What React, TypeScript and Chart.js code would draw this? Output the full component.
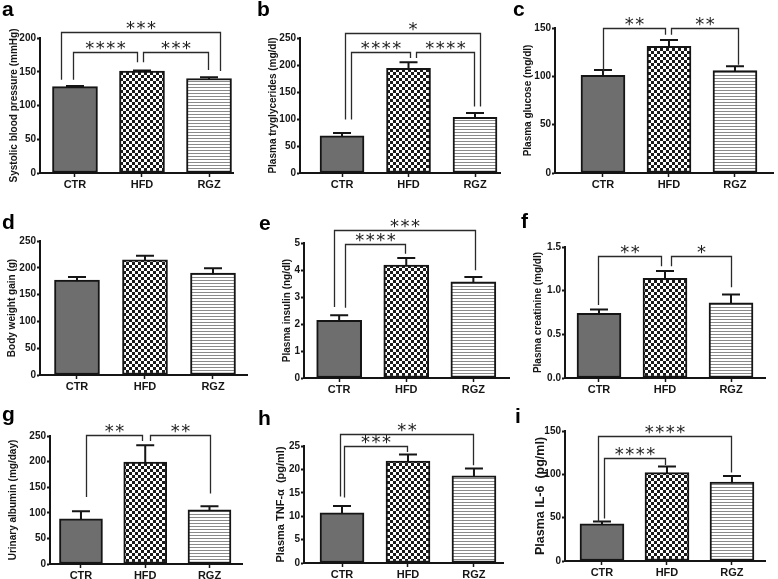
import React, { useEffect, useRef } from 'react';
import { Chart, registerables } from 'chart.js';

Chart.register(...registerables);

// ---------- data ----------
const categories = ['CTR', 'HFD', 'RGZ'];

const systolicBP = [128, 151, 140];
const systolicBPErr = [1, 1, 2];
const triglycerides = [69, 194, 103];
const triglyceridesErr = [5, 11, 8];
const glucose = [101, 131, 106];
const glucoseErr = [5.5, 6.5, 4.5];
const weightGain = [177, 215, 190];
const weightGainErr = [6, 7.5, 9];
const insulin = [2.14, 4.18, 3.56];
const insulinErr = [0.18, 0.26, 0.18];
const creatinine = [0.74, 1.14, 0.86];
const creatinineErr = [0.045, 0.085, 0.095];
const albumin = [88, 199, 106];
const albuminErr = [15, 33, 7];
const tnfAlpha = [10.7, 21.8, 18.6];
const tnfAlphaErr = [1.5, 1.4, 1.6];
const il6 = [43, 102, 91];
const il6Err = [2.5, 7, 7];

// significance brackets: [fromIdx, toIdx, fromShift, toShift, level, fromEnd, toEnd, stars]
type Sig = [number, number, number, number, number, number, number, string];
const systolicBPSig: Sig[] = [
  [0, 2, -0.21, 0.16, 209, 138, 151, '***'],
  [0, 1, -0.03, -0.07, 179, 138, 164, '****'],
  [1, 2, 0.02, -0.01, 179, 164, 152.5, '***'],
];
const triglyceridesSig: Sig[] = [
  [0, 2, 0.04, 0.075, 259, 99, 123, '*'],
  [0, 1, 0.13, 0.025, 224.6, 99, 213, '****'],
  [1, 2, 0.12, -0.02, 224.6, 213, 123, '****'],
];
const glucoseSig: Sig[] = [
  [0, 1, 0, -0.06, 150, 104, 143, '**'],
  [1, 2, 0.03, 0.04, 150, 143, 112, '**'],
];
const weightGainSig: Sig[] = [];
const insulinSig: Sig[] = [
  [0, 2, -0.08, 0.025, 5.49, 2.63, 3.99, '***'],
  [0, 1, 0.09, -0.02, 4.97, 2.6, 4.6, '****'],
];
const creatinineSig: Sig[] = [
  [0, 1, -0.015, -0.065, 1.396, 0.835, 1.28, '**'],
  [1, 2, 0.09, 0, 1.396, 1.28, 1.04, '*'],
];
const albuminSig: Sig[] = [
  [0, 1, 0.08, -0.045, 251, 131, 240, '**'],
  [1, 2, 0.07, 0.01, 251, 240, 137.5, '**'],
];
const tnfAlphaSig: Sig[] = [
  [0, 2, -0.03, -0.015, 27.6, 14.2, 20.9, '**'],
  [0, 1, 0.035, -0.02, 24.95, 14, 23.7, '***'],
];
const il6Sig: Sig[] = [
  [0, 2, -0.06, -0.02, 144, 45, 102, '****'],
  [0, 1, 0.035, -0.025, 119, 49, 110.7, '****'],
];

// ---------- panel layout ----------
type Panel = {
  letter: string; title: string; titleSize: number;
  values: number[]; errors: number[]; sig: Sig[];
  yMax: number; yStep: number; decimals: number;
  x0: number; top: number; w: number;
  axisLeft: number; axisRight: number; yTop: number; yBottom: number;
  titleX: number; xMin: number; xMax: number; barW: number;
  letterX: number; letterY: number;
};

const panels: Panel[] = [
  { letter: 'a', title: 'Systolic blood pressure (mmHg)', titleSize: 10, values: systolicBP, errors: systolicBPErr, sig: systolicBPSig,
    yMax: 200, yStep: 50, decimals: 0, x0: 0, top: 0, w: 255, axisLeft: 40, axisRight: 233, yTop: 38, yBottom: 173,
    titleX: 14, xMin: -0.522, xMax: 2.358, barW: 45, letterX: 2, letterY: 16 },
  { letter: 'b', title: 'Plasma tryglycerides (mg/dl)', titleSize: 10, values: triglycerides, errors: triglyceridesErr, sig: triglyceridesSig,
    yMax: 250, yStep: 50, decimals: 0, x0: 255, top: 0, w: 255, axisLeft: 300, axisRight: 500, yTop: 38, yBottom: 173,
    titleX: 273, xMin: -0.632, xMax: 2.376, barW: 44, letterX: 257, letterY: 16 },
  { letter: 'c', title: 'Plasma glucose (mg/dl)', titleSize: 10, values: glucose, errors: glucoseErr, sig: glucoseSig,
    yMax: 150, yStep: 50, decimals: 0, x0: 510, top: 0, w: 268, axisLeft: 555, axisRight: 773, yTop: 28, yBottom: 173,
    titleX: 528, xMin: -0.727, xMax: 2.576, barW: 44, letterX: 513, letterY: 16 },
  { letter: 'd', title: 'Body weight gain (g)', titleSize: 10, values: weightGain, errors: weightGainErr, sig: weightGainSig,
    yMax: 250, yStep: 50, decimals: 0, x0: 0, top: 190, w: 255, axisLeft: 40, axisRight: 247, yTop: 241, yBottom: 375,
    titleX: 12, xMin: -0.544, xMax: 2.5, barW: 45, letterX: 2, letterY: 229 },
  { letter: 'e', title: 'Plasma insulin (ng/dl)', titleSize: 10, values: insulin, errors: insulinErr, sig: insulinSig,
    yMax: 5, yStep: 1, decimals: 0, x0: 255, top: 190, w: 255, axisLeft: 304, axisRight: 512, yTop: 243, yBottom: 378,
    titleX: 287, xMin: -0.524, xMax: 2.546, barW: 45, letterX: 259, letterY: 230 },
  { letter: 'f', title: 'Plasma creatinine (mg/dl)', titleSize: 10, values: creatinine, errors: creatinineErr, sig: creatinineSig,
    yMax: 1.5, yStep: 0.5, decimals: 1, x0: 510, top: 190, w: 268, axisLeft: 565, axisRight: 765, yTop: 247, yBottom: 378,
    titleX: 538, xMin: -0.515, xMax: 2.515, barW: 44, letterX: 521, letterY: 228 },
  { letter: 'g', title: 'Urinary albumin (mg/day)', titleSize: 10, values: albumin, errors: albuminErr, sig: albuminSig,
    yMax: 250, yStep: 50, decimals: 0, x0: 0, top: 385, w: 255, axisLeft: 50, axisRight: 242, yTop: 436, yBottom: 564,
    titleX: 13, xMin: -0.482, xMax: 2.506, barW: 43, letterX: 2, letterY: 421 },
  { letter: 'h', title: 'Plasma TNF-α  (pg/ml)', titleSize: 11, values: tnfAlpha, errors: tnfAlphaErr, sig: tnfAlphaSig,
    yMax: 25, yStep: 5, decimals: 0, x0: 255, top: 385, w: 255, axisLeft: 304, axisRight: 503, yTop: 446, yBottom: 563,
    titleX: 281, xMin: -0.576, xMax: 2.44, barW: 44, letterX: 258, letterY: 425 },
  { letter: 'i', title: 'Plasma IL-6  (pg/ml)', titleSize: 12.5, values: il6, errors: il6Err, sig: il6Sig,
    yMax: 150, yStep: 50, decimals: 0, x0: 510, top: 385, w: 268, axisLeft: 565, axisRight: 765, yTop: 431, yBottom: 561,
    titleX: 541, xMin: -0.569, xMax: 2.508, barW: 44, letterX: 515, letterY: 423 },
];

const FONT = '"Liberation Sans", Arial, sans-serif';
const INK = '#151515';
const X_BOX = 22;

function checkerPattern(ctx: CanvasRenderingContext2D): CanvasPattern | string {
  const c = document.createElement('canvas');
  c.width = 6; c.height = 6;
  const g = c.getContext('2d')!;
  g.fillStyle = '#ffffff'; g.fillRect(0, 0, 6, 6);
  g.fillStyle = '#1a1a1a';
  g.fillRect(0, 0, 3, 3); g.fillRect(3, 3, 3, 3);
  return ctx.createPattern(c, 'repeat') || '#777';
}

function stripePattern(ctx: CanvasRenderingContext2D): CanvasPattern | string {
  const c = document.createElement('canvas');
  c.width = 3; c.height = 3;
  const g = c.getContext('2d')!;
  g.fillStyle = '#ffffff'; g.fillRect(0, 0, 3, 3);
  g.fillStyle = '#8a8a8a'; g.fillRect(0, 0, 3, 1);
  return ctx.createPattern(c, 'repeat') || '#ddd';
}

function PanelChart({ p }: { p: Panel }) {
  const ref = useRef<HTMLCanvasElement>(null);
  const canvasH = p.yBottom - p.top + X_BOX;
  useEffect(() => {
    const canvas = ref.current!;
    const ctx = canvas.getContext('2d')!;
    const lineH = p.titleSize * 1.2;
    const padLeft = p.titleX - p.x0 - lineH / 2;
    const yWidth = p.axisLeft - p.x0 - padLeft;

    const overlay = {
      id: 'overlay',
      afterDatasetsDraw(chart: any) {
        const c = chart.ctx as CanvasRenderingContext2D;
        const ys = chart.scales.y;
        const meta = chart.getDatasetMeta(0);
        c.save();
        c.strokeStyle = INK;
        c.lineWidth = 2;
        meta.data.forEach((bar: any, i: number) => {
          const top = ys.getPixelForValue(p.values[i] + p.errors[i]);
          c.beginPath();
          c.moveTo(bar.x, bar.y + 1);
          c.lineTo(bar.x, top);
          c.moveTo(bar.x - 9, top);
          c.lineTo(bar.x + 9, top);
          c.stroke();
        });
        c.restore();
      },
      afterDraw(chart: any) {
        const c = chart.ctx as CanvasRenderingContext2D;
        const xs = chart.scales.x;
        const ys = chart.scales.y;
        c.save();
        c.strokeStyle = '#2a2a2a';
        c.lineWidth = 1.3;
        c.fillStyle = '#1e1e1e';
        c.font = '18px "DejaVu Sans"';
        c.textAlign = 'center';
        const m = c.measureText('*');
        const asc = m.actualBoundingBoxAscent, desc = m.actualBoundingBoxDescent;
        p.sig.forEach(([a, b, da, db, level, ea, eb, stars]) => {
          const xa = Math.round(xs.getPixelForValue(a + da)) + 0.5;
          const xb = Math.round(xs.getPixelForValue(b + db)) + 0.5;
          const yl = Math.round(ys.getPixelForValue(level)) + 0.5;
          c.beginPath();
          c.moveTo(xa, ys.getPixelForValue(ea));
          c.lineTo(xa, yl);
          c.lineTo(xb, yl);
          c.lineTo(xb, ys.getPixelForValue(eb));
          c.stroke();
          const mid = (xa + xb) / 2;
          const center = yl - 7.5;
          const base = center + (asc - desc) / 2;
          const n = stars.length;
          for (let k = 0; k < n; k++) {
            c.fillText('*', mid + (k - (n - 1) / 2) * 10.5, base);
          }
        });
        c.fillStyle = '#000';
        c.textAlign = 'left';
        c.font = `bold 21px ${FONT}`;
        c.fillText(p.letter, p.letterX - p.x0, p.letterY - p.top);
        c.restore();
      },
    };

    const chart = new Chart(canvas, {
      type: 'bar',
      data: {
        datasets: [{
          data: p.values.map((v, i) => ({ x: i, y: v })),
          backgroundColor: ['#6e6e6e', checkerPattern(ctx), stripePattern(ctx)] as any,
          borderColor: INK,
          borderWidth: 2,
          borderSkipped: false,
          barThickness: p.barW,
        }],
      },
      options: {
        responsive: false,
        maintainAspectRatio: false,
        animation: false,
        devicePixelRatio: 1,
        events: [],
        layout: {
          padding: {
            left: padLeft,
            right: p.x0 + p.w - p.axisRight,
            top: p.yTop - p.top,
            bottom: 0,
          },
        },
        plugins: { legend: { display: false }, tooltip: { enabled: false }, title: { display: false } },
        scales: {
          x: {
            type: 'linear',
            min: p.xMin,
            max: p.xMax,
            offset: false,
            afterBuildTicks: (s: any) => { s.ticks = categories.map((_, i) => ({ value: i })); },
            afterFit: (s: any) => { s.height = X_BOX; },
            ticks: {
              callback: (v: any) => categories[v as number] ?? '',
              font: { family: FONT, size: 11, weight: 'bold' },
              color: INK,
              padding: 1,
              autoSkip: false,
              maxRotation: 0,
            },
            grid: { display: true, offset: false, drawOnChartArea: false, drawTicks: true, tickLength: 4, tickWidth: 1.5, tickColor: INK },
            border: { display: true, width: 2, color: INK },
          },
          y: {
            min: 0,
            max: p.yMax,
            afterFit: (s: any) => { s.width = yWidth; },
            ticks: {
              stepSize: p.yStep,
              callback: (v: any) => Number(v).toFixed(p.decimals),
              font: { family: FONT, size: 10, weight: 'bold' },
              color: INK,
              padding: 1,
            },
            grid: { display: true, drawOnChartArea: false, drawTicks: true, tickLength: 3, tickWidth: 2, tickColor: INK },
            border: { display: true, width: 2, color: INK },
            title: {
              display: true,
              text: p.title,
              font: { family: FONT, size: p.titleSize, weight: 'bold' },
              color: INK,
              padding: 0,
            },
          },
        },
      },
      plugins: [overlay],
    } as any);
    return () => chart.destroy();
  }, []);
  return (
    <canvas
      ref={ref}
      width={p.w}
      height={canvasH}
      style={{ position: 'absolute', left: p.x0, top: p.top, width: p.w, height: canvasH }}
    />
  );
}

export default function App() {
  return (
    <div style={{ position: 'fixed', left: 0, top: 0, width: 778, height: 579, background: '#fff', overflow: 'hidden' }}>
      {panels.map((p) => <PanelChart key={p.letter} p={p} />)}
    </div>
  );
}
